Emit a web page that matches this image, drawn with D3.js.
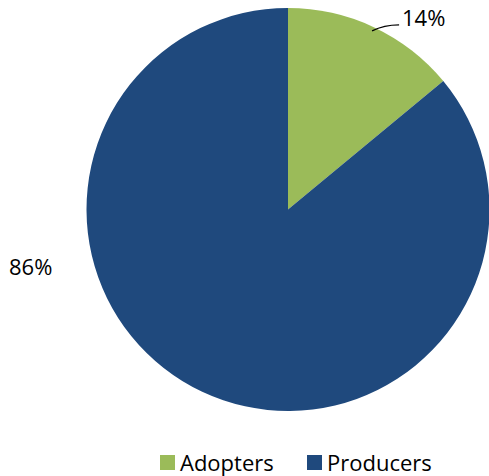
<!DOCTYPE html>
<html>
<head>
<meta charset="utf-8">
<script src="https://cdn.jsdelivr.net/npm/d3@7"></script>
<style>
  body { margin: 0; background: #fff; }
  text { font-family: "Open Sans", "Liberation Sans", sans-serif; }
</style>
</head>
<body>
<div id="chart"></div>
<script>
// Data
const categories = ["Adopters", "Producers"];
const shares = [14, 86];
const colors = ["#9BBB59", "#1F497D"];

const width = 489, height = 476;
const cx = 288, cy = 209.5, radius = 201.5;

const svg = d3.select("#chart")
    .append("svg")
    .attr("width", width)
    .attr("height", height);

const color = d3.scaleOrdinal().domain(categories).range(colors);

const pie = d3.pie().sort(null).value(d => d.value);
const arcs = pie(categories.map((c, i) => ({ name: c, value: shares[i] })));

const arc = d3.arc().innerRadius(0).outerRadius(radius);

const g = svg.append("g")
    .attr("transform", "translate(" + cx + "," + cy + ")");

g.selectAll("path")
    .data(arcs)
    .enter()
    .append("path")
    .attr("d", arc)
    .attr("fill", d => color(d.data.name));

// 14% label with leader line
const a0 = arcs[0];
const mid0 = (a0.startAngle + a0.endAngle) / 2;
const p0 = [Math.sin(mid0) * (radius - 4), -Math.cos(mid0) * (radius - 4)];
g.append("path")
    .attr("d", "M" + p0[0] + "," + p0[1] + " Q" + (p0[0] + 12) + "," + (p0[1] - 6) + " " + (p0[0] + 27) + "," + (p0[1] - 6))
    .attr("fill", "none")
    .attr("stroke", "#000")
    .attr("stroke-width", 1.3);

svg.append("text")
    .attr("x", 402)
    .attr("y", 26)
    .attr("font-size", "22px")
    .attr("fill", "#000")
    .text(shares[0] + "%");

svg.append("text")
    .attr("x", 9)
    .attr("y", 275)
    .attr("font-size", "22px")
    .attr("fill", "#000")
    .text(shares[1] + "%");

// Legend
const legendX = [160, 307];
const legend = svg.selectAll(".legend")
    .data(categories)
    .enter().append("g")
    .attr("class", "legend")
    .attr("transform", (d, i) => "translate(" + legendX[i] + ",455)");

legend.append("rect")
    .attr("width", 15)
    .attr("height", 15)
    .attr("fill", d => color(d));

legend.append("text")
    .attr("x", 20)
    .attr("y", 16)
    .attr("font-size", "22px")
    .attr("fill", "#000")
    .text(d => d);
</script>
</body>
</html>
